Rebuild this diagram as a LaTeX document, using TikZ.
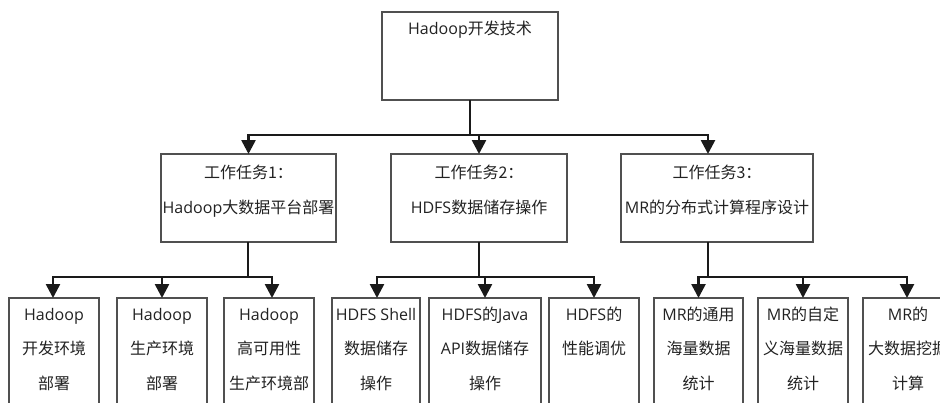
\documentclass[tikz,border=0pt]{standalone}
\usepackage{fontspec}
\setmainfont{Open Sans}
\newfontfamily\zhfont{Noto Sans CJK SC}
\newcommand{\zh}[1]{{\zhfont #1}}
\usetikzlibrary{arrows.meta}
\definecolor{boxgray}{HTML}{505050}
\definecolor{linedark}{HTML}{1A1A1A}
\definecolor{txtdark}{HTML}{222222}

\begin{document}
\begin{tikzpicture}[x=1pt,y=-1pt,
  boxnode/.style={draw=boxgray, line width=1.1pt, fill=white, inner sep=0pt,
    outer sep=0pt, anchor=north west},
  txt/.style={text=txtdark, inner sep=0pt, anchor=base,
    font=\fontsize{16}{20}\selectfont},
  conn/.style={draw=linedark, line width=2.6pt},
  arr/.style={conn, -{Triangle[length=14pt,width=14pt]}}
]
\useasboundingbox (0,0) rectangle (940,402);
\clip (0,0) rectangle (940,402);

% root
\node[boxnode, minimum width=176pt, minimum height=88pt] (top) at (382,12) {};
\node[txt] (top-1) at (470,34) {Hadoop\zh{开发技术}};

% second level
\node[boxnode, minimum width=175pt, minimum height=88pt] (m1) at (161,154) {};
\node[boxnode, minimum width=176pt, minimum height=88pt] (m2) at (391,154) {};
\node[boxnode, minimum width=192pt, minimum height=88pt] (m3) at (621,154) {};
\node[txt] (m1-1) at (248.5,178) {\zh{工作任务1：}};
\node[txt] (m1-2) at (248.5,213) {Hadoop\zh{大数据平台部署}};
\node[txt] (m2-1) at (479,178) {\zh{工作任务2：}};
\node[txt] (m2-2) at (479,213) {HDFS\zh{数据储存操作}};
\node[txt] (m3-1) at (717,178) {\zh{工作任务3：}};
\node[txt] (m3-2) at (717,213) {MR\zh{的分布式计算程序设计}};

% third level
\node[boxnode, minimum width=90pt,  minimum height=130pt] (b1) at (9,298) {};
\node[boxnode, minimum width=90pt,  minimum height=130pt] (b2) at (117,298) {};
\node[boxnode, minimum width=90pt,  minimum height=130pt] (b3) at (224,298) {};
\node[boxnode, minimum width=88pt,  minimum height=130pt] (b4) at (332,298) {};
\node[boxnode, minimum width=112pt, minimum height=130pt] (b5) at (429,298) {};
\node[boxnode, minimum width=90pt,  minimum height=130pt] (b6) at (549,298) {};
\node[boxnode, minimum width=89pt,  minimum height=130pt] (b7) at (654,298) {};
\node[boxnode, minimum width=90pt,  minimum height=130pt] (b8) at (758,298) {};
\node[boxnode, minimum width=90pt,  minimum height=130pt] (b9) at (863,298) {};

\node[txt] (b1-1) at (54,320) {Hadoop};
\node[txt] (b1-2) at (54,354) {\zh{开发环境}};
\node[txt] (b1-3) at (54,389) {\zh{部署}};
\node[txt] (b2-1) at (162,320) {Hadoop};
\node[txt] (b2-2) at (162,354) {\zh{生产环境}};
\node[txt] (b2-3) at (162,389) {\zh{部署}};
\node[txt] (b3-1) at (269,320) {Hadoop};
\node[txt] (b3-2) at (269,354) {\zh{高可用性}};
\node[txt] (b3-3) at (269,389) {\zh{生产环境部}};
\node[txt] (b4-1) at (376,320) {HDFS Shell};
\node[txt] (b4-2) at (376,354) {\zh{数据储存}};
\node[txt] (b4-3) at (376,389) {\zh{操作}};
\node[txt] (b5-1) at (485,320) {HDFS\zh{的}Java};
\node[txt] (b5-2) at (485,354) {API\zh{数据储存}};
\node[txt] (b5-3) at (485,389) {\zh{操作}};
\node[txt] (b6-1) at (594,320) {HDFS\zh{的}};
\node[txt] (b6-2) at (594,354) {\zh{性能调优}};
\node[txt] (b7-1) at (698.5,320) {MR\zh{的通用}};
\node[txt] (b7-2) at (698.5,354) {\zh{海量数据}};
\node[txt] (b7-3) at (698.5,389) {\zh{统计}};
\node[txt] (b8-1) at (803,320) {MR\zh{的自定}};
\node[txt] (b8-2) at (803,354) {\zh{义海量数据}};
\node[txt] (b8-3) at (803,389) {\zh{统计}};
\node[txt] (b9-1) at (908,320) {MR\zh{的}};
\node[txt] (b9-2) at (908,354) {\zh{大数据挖掘}};
\node[txt] (b9-3) at (908,389) {\zh{计算}};

% connectors: root to second level
\coordinate (j0) at (470,135);
\draw[conn] (top.south) -- (j0);
\draw[arr] (j0) -| (m1.north);
\draw[arr] (j0) -| (m2.north);
\draw[arr] (j0) -| ([xshift=-9pt]m3.north);

% task 1 branch
\coordinate (j1) at (248,277);
\draw[conn] (m1.south -| j1) -- (j1);
\draw[arr] (j1) -| ([xshift=-1pt]b1.north);
\draw[arr] (j1) -| (b2.north);
\draw[arr] (j1) -| ([xshift=3pt]b3.north);

% task 2 branch
\coordinate (j2) at (479,277);
\draw[conn] (m2.south) -- (j2);
\draw[arr] (j2) -| ([xshift=1pt]b4.north);
\draw[arr] (j2) -| (b5.north);
\draw[arr] (j2) -| (b6.north);

% task 3 branch
\coordinate (j3) at (708,277);
\draw[conn] (m3.south -| j3) -- (j3);
\draw[arr] (j3) -| (b7.north);
\draw[arr] (j3) -| (b8.north);
\draw[arr] (j3) -| ([xshift=-1pt]b9.north);
\end{tikzpicture}
\end{document}
